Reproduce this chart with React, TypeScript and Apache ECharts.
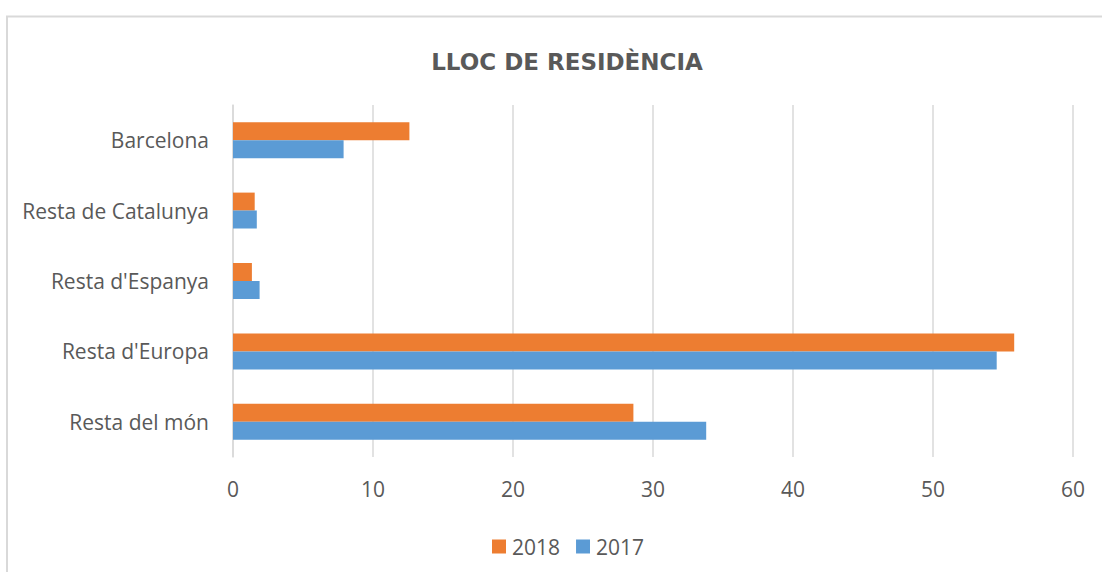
import React, { useEffect, useRef } from "react";
import * as echarts from "echarts";

const categories = ["Barcelona", "Resta de Catalunya", "Resta d'Espanya", "Resta d'Europa", "Resta del món"];
const values2018 = [12.6, 1.55, 1.35, 55.8, 28.6];
const values2017 = [7.9, 1.7, 1.9, 54.55, 33.8];
const xTicks = [0, 10, 20, 30, 40, 50, 60];
const seriesNames = ["2018", "2017"];

export default function App() {
  const ref = useRef<HTMLDivElement>(null);
  useEffect(() => {
    if (!ref.current) return;
    const chart = echarts.init(ref.current, null, { renderer: "svg" });
    const textColor = "#595959";
    const font = "'Open Sans', sans-serif";
    chart.setOption({
      animation: false,
      backgroundColor: "#ffffff",
      title: {
        text: "LLOC DE RESIDÈNCIA",
        left: 562,
        top: 45,
        textAlign: "center",
        textStyle: {
          fontFamily: "'DejaVu Sans', sans-serif",
          fontWeight: "bold",
          fontSize: 23,
          color: textColor,
        },
      },
      graphic: [
        {
          type: "rect",
          shape: { x: 7, y: 16.5, width: 1300, height: 800 },
          style: { fill: "none", stroke: "#d9d9d9", lineWidth: 2 },
          silent: true,
        },
      ],
      legend: {
        data: seriesNames,
        left: 487,
        top: 531,
        icon: "rect",
        itemWidth: 14,
        itemHeight: 14,
        itemGap: 16,
        textStyle: { fontFamily: font, fontSize: 21, color: textColor, padding: [0, 0, 0, 1] },
      },
      grid: { left: 233, right: 29, top: 105, bottom: 115, containLabel: false },
      xAxis: {
        type: "value",
        min: xTicks[0],
        max: xTicks[xTicks.length - 1],
        interval: 10,
        axisLine: { show: false },
        axisTick: { show: false },
        splitLine: { show: true, lineStyle: { color: "#d9d9d9", width: 1.5 } },
        axisLabel: { fontFamily: font, fontSize: 21, color: textColor, margin: 21 },
      },
      yAxis: {
        type: "category",
        data: categories,
        inverse: true,
        axisLine: { show: true, lineStyle: { color: "#d9d9d9", width: 1.5 } },
        axisTick: { show: false },
        axisLabel: { fontFamily: font, fontSize: 21, color: textColor, margin: 24 },
      },
      series: [
        {
          name: seriesNames[0],
          type: "bar",
          data: values2018,
          barWidth: 18,
          barGap: "0%",
          itemStyle: { color: "#ED7D31" },
        },
        {
          name: seriesNames[1],
          type: "bar",
          data: values2017,
          barWidth: 18,
          barGap: "0%",
          itemStyle: { color: "#5B9BD5" },
        },
      ],
    });
    return () => chart.dispose();
  }, []);
  return (
    <div
      ref={ref}
      style={{ position: "absolute", left: 0, top: 0, width: 1102, height: 572 }}
    />
  );
}
